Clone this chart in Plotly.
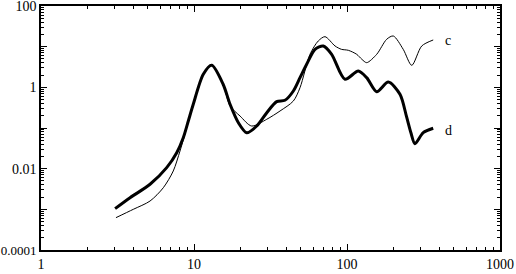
import plotly.graph_objects as go

# curve d (thick)
d_x = [3.05, 3.82, 5.16, 6.63, 7.71, 8.51, 9.18, 9.89, 11.5, 13.05, 15.5, 17.2, 19.5, 22.1,
       25.7, 29.9, 34.7, 39.3, 44.6, 49.3, 54.5, 61.8, 70.0, 79.4, 97.0, 118.5, 134.5,
       156.4, 186.2, 222, 245, 262, 278, 315, 366]
d_y = [0.00104, 0.00193, 0.00413, 0.0106, 0.0247, 0.0578, 0.149, 0.383, 2.09, 3.48, 1.19,
       0.383, 0.135, 0.0767, 0.112, 0.238, 0.444, 0.48, 0.813, 1.73, 3.69, 8.61, 10.4, 6.49,
       1.58, 2.52, 1.73, 0.781, 1.35, 0.674, 0.19, 0.075, 0.0411, 0.0767, 0.0984]

# curve c (thin)
c_x = [3.09, 4.01, 5.16, 6.3, 7.32, 8.1, 8.73, 9.89, 11.5, 13.05, 15.5, 17.2, 20.0, 23.8,
       29.9, 36.5, 44.6, 49.3, 57.3, 64.9, 71.8, 83.5, 92, 102, 115.7, 125, 134.5, 156.4,
       181.7, 200.7, 233, 265, 308, 366]
c_y = [0.000624, 0.001, 0.0016, 0.0034, 0.00877, 0.0272, 0.0713, 0.383, 2.09, 3.48, 1.19,
       0.348, 0.197, 0.112, 0.164, 0.262, 0.461, 0.98, 6.49, 13.8, 17.6, 10.4, 8.6, 8.14,
       6.49, 4.9, 4.04, 6.49, 15.2, 18.3, 8.61, 3.48, 10.4, 14.6]

x_ticks = [1, 10, 100, 1000]
x_ticklabels = ["1", "10", "100", "1000"]
y_ticks = [1e-4, 1e-3, 1e-2, 1e-1, 1, 10, 100]
y_ticklabels = ["<span style='font-size:13px'>0.0001</span>", "", "0.01", "", "1", "", "100"]

def minor_vals(lo, hi):
    vals = []
    for k in range(lo, hi):
        for m in range(2, 10):
            vals.append(m * 10 ** k)
    return vals

fig = go.Figure()
fig.add_trace(go.Scatter(x=c_x, y=c_y, mode="lines", line=dict(color="black", width=1, shape="spline", smoothing=0.8)))
fig.add_trace(go.Scatter(x=d_x, y=d_y, mode="lines", line=dict(color="black", width=3, shape="spline", smoothing=0.8)))

font = dict(family="Liberation Serif", size=14, color="black")
fig.add_annotation(x=2.627, y=1.164, xref="x", yref="y", text="c", showarrow=False, font=font, xanchor="left")
fig.add_annotation(x=2.627, y=-1.073, xref="x", yref="y", text="d", showarrow=False, font=font, xanchor="left")

axis_common = dict(showgrid=False, zeroline=False, showline=True, linecolor="black", linewidth=1.5,
                   mirror="ticks", ticks="inside", ticklen=6, tickcolor="black", tickwidth=1,
                   tickfont=font, ticklabeloverflow="allow")
fig.update_xaxes(type="log", range=[0, 3], tickmode="array", tickvals=x_ticks, ticktext=x_ticklabels,
                 minor=dict(tickmode="array", tickvals=minor_vals(0, 3), ticks="inside", ticklen=3,
                            tickcolor="black", showgrid=False), **axis_common)
fig.update_yaxes(type="log", range=[-4, 2], tickmode="array", tickvals=y_ticks, ticktext=y_ticklabels,
                 ticklabelstandoff=0,
                 minor=dict(tickmode="array", tickvals=minor_vals(-4, 2), ticks="inside", ticklen=3,
                            tickcolor="black", showgrid=False), **axis_common)
fig.update_layout(width=516, height=274, margin=dict(l=41, r=16, t=6, b=24, autoexpand=False),
                  plot_bgcolor="white", paper_bgcolor="white", showlegend=False)
fig.write_html("out.html", config={"displayModeBar": False},
               post_script="document.body.style.margin='0';document.body.style.overflow='hidden';")
